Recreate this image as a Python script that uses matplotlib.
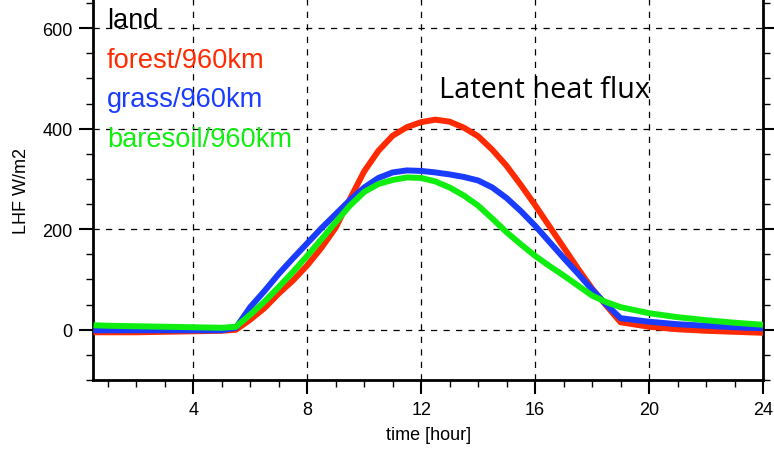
import matplotlib
matplotlib.use("Agg")
import matplotlib.pyplot as plt
from matplotlib.ticker import MultipleLocator, FixedLocator

# Diurnal latent heat flux for three land-surface types
hours = [0.5, 1, 2, 3, 4, 5, 5.5, 6, 6.5, 7, 7.5, 8, 8.5, 9, 9.5, 10, 10.5,
         11, 11.5, 12, 12.5, 13, 13.5, 14, 14.5, 15, 15.5, 16, 16.5, 17,
         17.5, 18, 18.5, 19, 20, 21, 22, 23, 24]
forest = [-5, -5, -5, -4, -3, -2, 0, 20, 43, 72, 98, 128, 163, 203, 260,
          315, 356, 386, 403, 413, 418, 414, 402, 385, 358, 326, 288, 248,
          206, 164, 122, 82, 48, 15, 6, 1, -2, -4, -6]
grass = [-1, -1, -1, -1, -1, -1, 4, 45, 77, 111, 142, 172, 202, 230, 258,
         283, 302, 313, 317, 316, 313, 309, 304, 297, 283, 262, 236, 207,
         175, 143, 112, 80, 50, 23, 16, 11, 8, 5, 3]
baresoil = [9, 8, 7, 6, 5, 4, 6, 30, 56, 85, 115, 147, 180, 214, 247, 274,
            290, 298, 303, 302, 295, 283, 267, 247, 221, 194, 170, 147, 127,
            108, 88, 68, 55, 45, 33, 25, 19, 14, 10]

series_labels = ["forest/960km", "grass/960km", "baresoil/960km"]
series_colors = ["#ff2a00", "#1a3cff", "#10ee10"]
x_major = [4, 8, 12, 16, 20, 24]
y_major = [0, 200, 400, 600]

plt.rcParams["font.family"] = ["Liberation Sans", "DejaVu Sans"]

fig = plt.figure(figsize=(7.74, 4.52), dpi=100)
ax = fig.add_axes([0.1208, 0.157, 0.865, 0.843])

for vals, col in zip([forest, grass, baresoil], series_colors):
    ax.plot(hours, vals, color=col, lw=4.3, solid_joinstyle="round",
            solid_capstyle="butt", zorder=3)

ax.set_xlim(0.5, 24)
ax.set_ylim(-100, 658)

# dashed reference grid at the major ticks
for xv in x_major[:-1]:
    ax.axvline(xv, color="black", lw=0.9, ls=(0, (5, 5)), zorder=1)
for yv in y_major:
    ax.axhline(yv, color="black", lw=0.9, ls=(0, (5, 5)), zorder=1)

ax.xaxis.set_major_locator(FixedLocator(x_major))
ax.xaxis.set_minor_locator(MultipleLocator(1))
ax.yaxis.set_major_locator(FixedLocator(y_major))
ax.yaxis.set_minor_locator(MultipleLocator(50))

ax.tick_params(axis="both", which="major", direction="out", length=10,
               width=1.5, labelsize=13, pad=5)
ax.tick_params(axis="both", which="minor", direction="out", length=5,
               width=1.0)
ax.tick_params(axis="y", which="both", right=True, labelright=False)
ax.tick_params(axis="x", which="both", top=False)

for side in ["left", "right", "bottom"]:
    ax.spines[side].set_linewidth(2)
ax.spines["top"].set_visible(False)

ax.set_xlabel("time [hour]", fontsize=13, labelpad=6)
ax.set_ylabel("LHF W/m2", fontsize=13, labelpad=9)

# legend as coloured text lines in the upper-left corner
fig.text(107 / 774, 1 - 28 / 452, "land", fontsize=19.5, color="black",
         ha="left", va="baseline")
baselines = [68, 107, 147]
for lab, col, yb in zip(series_labels, series_colors, baselines):
    fig.text(107 / 774, 1 - yb / 452, lab, fontsize=19.6, color=col,
             ha="left", va="baseline")

fig.text(439 / 774, 1 - 98 / 452, "Latent heat flux", fontsize=20.8,
         family=["Open Sans", "DejaVu Sans"], color="black",
         ha="left", va="baseline")

fig.savefig("out.png", dpi=100)
